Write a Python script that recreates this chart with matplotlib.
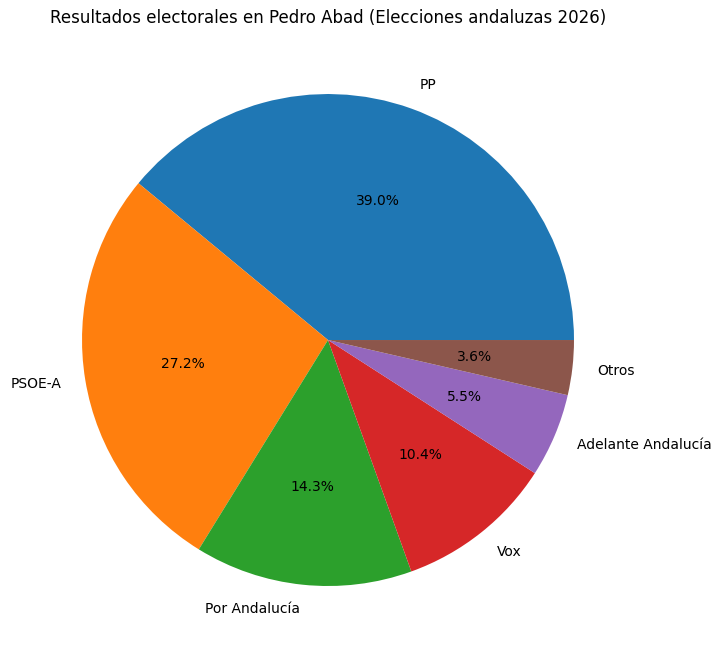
import matplotlib
matplotlib.use("Agg")
import matplotlib.pyplot as plt

labels = ["PP", "PSOE-A", "Por Andalucía", "Vox", "Adelante Andalucía", "Otros"]
values = [39.0, 27.2, 14.3, 10.4, 5.5, 3.6]

fig = plt.figure(figsize=(7.22, 6.58), dpi=100)
ax = fig.add_axes([0.1136, 0.1094, 0.6814, 0.7477])
ax.pie(values, labels=labels, autopct="%1.1f%%")
ax.set_aspect("equal")
ax.set_xlim(-1, 1)
ax.set_ylim(-1, 1)
fig.text(328/722, 1 - 18/658, "Resultados electorales en Pedro Abad (Elecciones andaluzas 2026)",
         ha="center", va="center", fontsize=12)
fig.savefig("out.png", dpi=100)
